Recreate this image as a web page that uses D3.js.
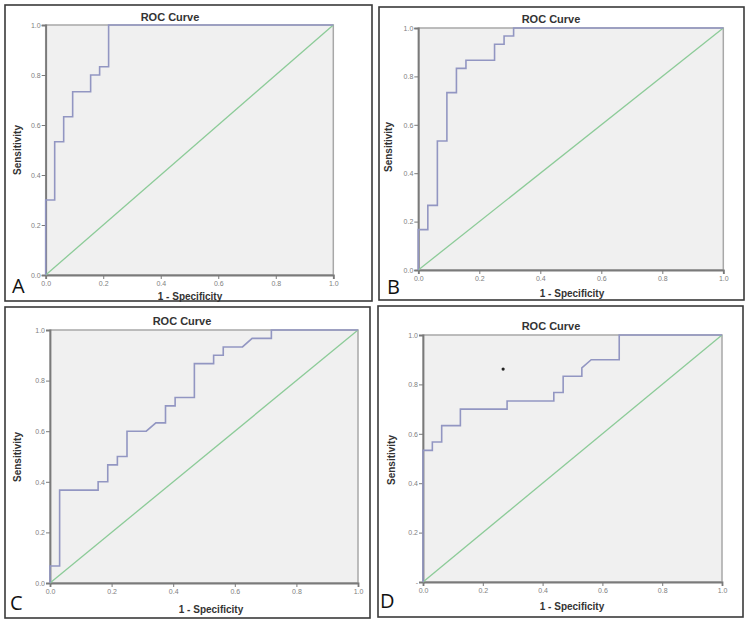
<!DOCTYPE html>
<html>
<head>
<meta charset="utf-8">
<script src="https://cdn.jsdelivr.net/npm/d3@7/dist/d3.min.js"></script>
<style>
  html, body { margin: 0; padding: 0; background: #fff; }
  svg { display: block; }
</style>
</head>
<body>
<svg id="chart" width="750" height="625"></svg>
<script>
// ---------------- DATA ----------------
const panelLetters = ["A", "B", "C", "D"];
const chartTitle = "ROC Curve";
const xAxisLabel = "1 - Specificity";
const yAxisLabel = "Sensitivity";
const tickValues = [0, 0.2, 0.4, 0.6, 0.8, 1.0];
const tickLabels = ["0.0", "0.2", "0.4", "0.6", "0.8", "1.0"];
const tickLabelsD_y = ["-", "0.2", "0.4", "0.6", "0.8", "1.0"];

// ROC curve vertices: 1 - specificity (fpr) and sensitivity (tpr)
const fprA = [0, 0, 0.03125, 0.03125, 0.0625, 0.0625, 0.09375, 0.09375, 0.15625, 0.15625, 0.1875, 0.1875, 0.21875, 0.21875, 1];
const tprA = [0, 0.3, 0.3, 0.533, 0.533, 0.633, 0.633, 0.733, 0.733, 0.8, 0.8, 0.833, 0.833, 1, 1];

const fprB = [0, 0, 0.03125, 0.03125, 0.0625, 0.0625, 0.09375, 0.09375, 0.125, 0.125, 0.15625, 0.15625, 0.25, 0.25, 0.28125, 0.28125, 0.3125, 0.3125, 1];
const tprB = [0, 0.167, 0.167, 0.267, 0.267, 0.533, 0.533, 0.733, 0.733, 0.833, 0.833, 0.867, 0.867, 0.933, 0.933, 0.967, 0.967, 1, 1];

const fprC = [0, 0, 0.03125, 0.03125, 0.15625, 0.15625, 0.1875, 0.1875, 0.21875, 0.21875, 0.25, 0.25, 0.3125, 0.34375, 0.375, 0.375, 0.40625, 0.40625, 0.46875, 0.46875, 0.53125, 0.53125, 0.5625, 0.5625, 0.625, 0.65625, 0.71875, 0.71875, 1];
const tprC = [0, 0.067, 0.067, 0.367, 0.367, 0.4, 0.4, 0.467, 0.467, 0.5, 0.5, 0.6, 0.6, 0.633, 0.633, 0.7, 0.7, 0.733, 0.733, 0.867, 0.867, 0.9, 0.9, 0.933, 0.933, 0.967, 0.967, 1, 1];

const fprD = [0, 0, 0.03125, 0.03125, 0.0625, 0.0625, 0.125, 0.125, 0.28125, 0.28125, 0.4375, 0.4375, 0.46875, 0.46875, 0.53125, 0.53125, 0.5625, 0.65625, 0.65625, 1];
const tprD = [0, 0.533, 0.533, 0.567, 0.567, 0.633, 0.633, 0.7, 0.7, 0.733, 0.733, 0.767, 0.767, 0.833, 0.833, 0.867, 0.9, 0.9, 1, 1];

// stray marker in panel D
const dotD = [0.268, 0.862];

// reference diagonal
const diagX = [0, 1];
const diagY = [0, 1];

// ---------------- LAYOUT ----------------
const layouts = [
  { box: [5, 5, 372, 301], plot: [45.7, 25, 333.3, 275], title: [170, 21], xl: [190, 300], yl: [18, 150], letter: [12, 293] },
  { box: [379, 7, 744, 300], plot: [418.3, 28, 723.3, 270], title: [551, 23], xl: [572, 297], yl: [389, 147], letter: [387, 294] },
  { box: [5, 307, 370, 618], plot: [50, 330, 358, 583], title: [182, 325], xl: [211, 613], yl: [18, 457], letter: [10, 610] },
  { box: [378, 306, 743, 617], plot: [423, 335, 722, 582], title: [551, 330], xl: [572, 610], yl: [392, 460], letter: [380, 608] }
];

const series = [
  { fpr: fprA, tpr: tprA, yLabels: tickLabels },
  { fpr: fprB, tpr: tprB, yLabels: tickLabels },
  { fpr: fprC, tpr: tprC, yLabels: tickLabels },
  { fpr: fprD, tpr: tprD, yLabels: tickLabelsD_y, dot: dotD }
];

const svg = d3.select("#chart");
const font = "'Liberation Sans', Arial, sans-serif";

series.forEach((s, i) => {
  const L = layouts[i];
  const g = svg.append("g");

  // outer panel frame
  g.append("rect")
    .attr("x", L.box[0]).attr("y", L.box[1])
    .attr("width", L.box[2] - L.box[0]).attr("height", L.box[3] - L.box[1])
    .attr("fill", "#fff").attr("stroke", "#3a3a3a").attr("stroke-width", 1.6);

  const x = d3.scaleLinear().domain([0, 1]).range([L.plot[0], L.plot[2]]);
  const y = d3.scaleLinear().domain([0, 1]).range([L.plot[3], L.plot[1]]);

  // plot background
  g.append("rect")
    .attr("x", x(0)).attr("y", y(1))
    .attr("width", x(1) - x(0)).attr("height", y(0) - y(1))
    .attr("fill", "#f0f0f0").attr("stroke", "#a8a8a8").attr("stroke-width", 1.5);

  // axes
  const xAxis = d3.axisBottom(x).tickValues(tickValues)
    .tickFormat((d, k) => tickLabels[k]).tickSize(4).tickPadding(2);
  const yAxis = d3.axisLeft(y).tickValues(tickValues)
    .tickFormat((d, k) => s.yLabels[k]).tickSize(4).tickPadding(1);

  const gx = g.append("g").attr("transform", `translate(0,${y(0)})`).call(xAxis);
  const gy = g.append("g").attr("transform", `translate(${x(0)},0)`).call(yAxis);
  [gx, gy].forEach(ax => {
    ax.select(".domain").attr("stroke", "#7a7a7a").attr("stroke-width", 1.8);
    ax.selectAll(".tick line").attr("stroke", "#7a7a7a").attr("stroke-width", 1);
    ax.selectAll(".tick text").attr("fill", "#808080").attr("font-size", "7px").attr("font-family", font);
  });

  // diagonal reference line
  const line = d3.line().x(d => x(d[0])).y(d => y(d[1]));
  g.append("path")
    .datum(diagX.map((v, k) => [v, diagY[k]]))
    .attr("d", line)
    .attr("fill", "none").attr("stroke", "#8ccb98").attr("stroke-width", 1.3);

  // ROC curve
  g.append("path")
    .datum(s.fpr.map((v, k) => [v, s.tpr[k]]))
    .attr("d", line)
    .attr("fill", "none").attr("stroke", "#9296c2").attr("stroke-width", 1.6);

  if (s.dot) {
    g.append("circle")
      .attr("cx", x(s.dot[0])).attr("cy", y(s.dot[1])).attr("r", 1.6)
      .attr("fill", "#222");
  }

  // title
  g.append("text")
    .attr("x", L.title[0]).attr("y", L.title[1])
    .attr("text-anchor", "middle").attr("font-family", font)
    .attr("font-weight", "bold").attr("font-size", "11px").attr("fill", "#333")
    .text(chartTitle);

  // x label
  g.append("text")
    .attr("x", L.xl[0]).attr("y", L.xl[1])
    .attr("text-anchor", "middle").attr("font-family", font)
    .attr("font-weight", "bold").attr("font-size", "10px").attr("fill", "#333")
    .text(xAxisLabel);

  // y label
  g.append("text")
    .attr("transform", `translate(${L.yl[0]},${L.yl[1]}) rotate(-90)`)
    .attr("text-anchor", "middle").attr("dominant-baseline", "middle")
    .attr("font-family", font)
    .attr("font-weight", "bold").attr("font-size", "10px").attr("fill", "#333")
    .text(yAxisLabel);

  // panel letter
  g.append("text")
    .attr("x", L.letter[0]).attr("y", L.letter[1])
    .attr("font-family", "'Open Sans', 'Liberation Sans', sans-serif")
    .attr("font-size", "20px").attr("fill", "#111")
    .text(panelLetters[i]);
});
</script>
</body>
</html>
